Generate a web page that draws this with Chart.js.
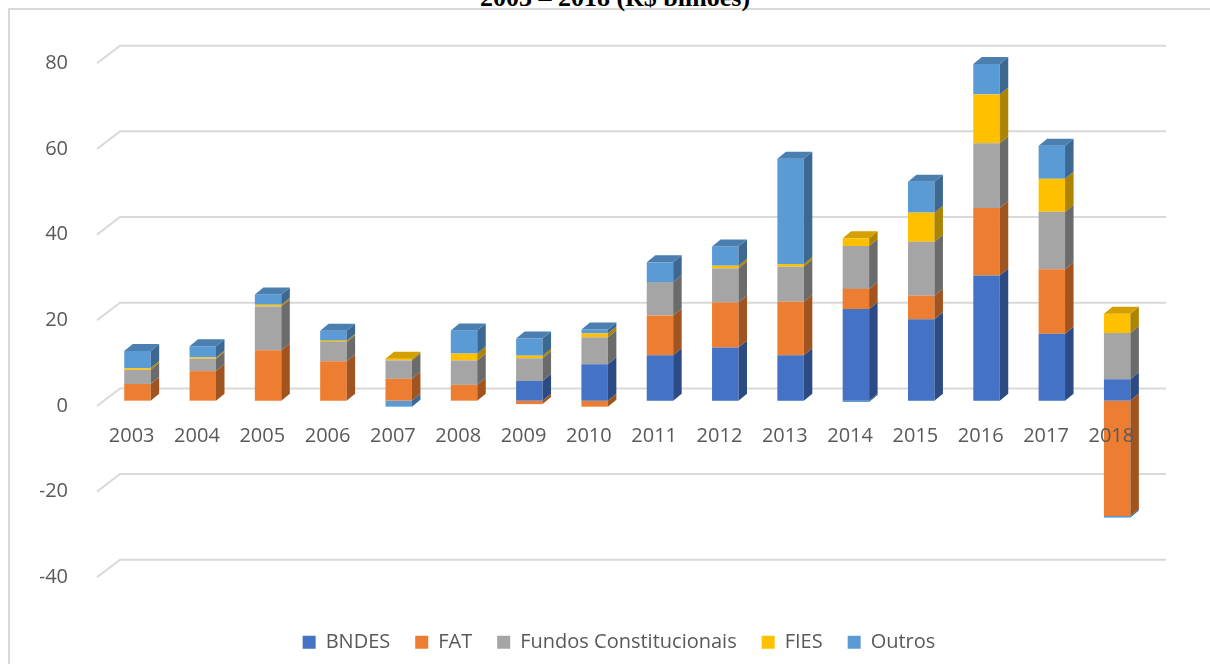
<!DOCTYPE html>
<html lang="pt-BR">
<head>
<meta charset="utf-8">
<title>2003 – 2018 (R$ bilhões)</title>
<script src="https://cdn.jsdelivr.net/npm/chart.js@4/dist/chart.umd.min.js"></script>
<style>
  html, body { margin: 0; padding: 0; background: #fff; overflow: hidden; }
  #wrap { position: relative; width: 1210px; height: 664px; overflow: hidden; }
  #frame {
    position: absolute; left: 8px; top: 8px; width: 1300px; height: 800px;
    border: 2px solid #d9d9d9; box-sizing: border-box;
  }
  #title {
    position: absolute; left: 10px; top: -15px; width: 1210px; text-align: center;
    font: bold 26px "Liberation Serif", "Times New Roman", serif; line-height: 26px; color: #000;
    white-space: nowrap;
  }
  #chart { position: absolute; left: 0; top: 0; }
</style>
</head>
<body>
<div id="wrap">
  <div id="frame"></div>
  <div id="title">2003 – 2018 (R$ bilhões)</div>
  <canvas id="chart" width="1210" height="664"></canvas>
</div>
<script>
// データ
const years = ["2003", "2004", "2005", "2006", "2007", "2008", "2009", "2010",
  "2011", "2012", "2013", "2014", "2015", "2016", "2017", "2018"];
const bndes = [0, 0, 0, 0, 0, 0, 4.6, 8.5, 10.6, 12.4, 10.6, 21.4, 19.0, 29.2, 15.6, 5.0];
const fat = [3.9, 6.9, 11.8, 9.2, 5.1, 3.7, -0.8, -1.4, 9.3, 10.5, 12.5, 4.7, 5.5, 15.8, 15.1, -26.9];
const fundos = [3.3, 2.9, 10.2, 4.5, 4.3, 5.7, 5.3, 6.3, 7.8, 8.0, 8.2, 10.0, 12.6, 15.1, 13.4, 10.8];
const fies = [0.4, 0.3, 0.4, 0.3, 0.4, 1.6, 0.6, 0.9, 0, 0.6, 0.6, 1.8, 6.8, 11.4, 7.7, 4.5];
const outros = [4.0, 2.6, 2.4, 2.3, -1.4, 5.4, 4.0, 0.9, 4.6, 4.5, 24.6, -0.3, 7.2, 7.1, 7.7, -0.4];
const yTicks = [-40, -20, 0, 20, 40, 60, 80];

const seriesNames = ["BNDES", "FAT", "Fundos Constitucionais", "FIES", "Outros"];
const frontColors = ["#4472C4", "#ED7D31", "#A5A5A5", "#FFC000", "#5B9BD5"];
const sideColors = ["#2C4B84", "#A1541F", "#6B6B6B", "#AD8400", "#3C6892"];
const topColors = ["#3A64AE", "#CC6A28", "#8E8E8E", "#D4A000", "#4A7FB0"];

// 3D表示用のオフセット
const DEPTH_X = 8.5;
const DEPTH_Y = -7;
const BAR_SHIFT_X = 5.8;
const BAR_SHIFT_Y = -5.3;
const LEGEND_SHIFT_X = 27;
const TEXT_COLOR = "#595959";

// 凡例の位置調整
const legendShiftPlugin = {
  id: "legendShift",
  afterLayout(chart) {
    if (chart.legend) {
      chart.legend.left += LEGEND_SHIFT_X;
      chart.legend.right += LEGEND_SHIFT_X;
    }
  },
};

// 背面のグリッド線と立体の棒
const threeDPlugin = {
  id: "threeD",
  beforeDatasetsDraw(chart) {
    const ctx = chart.ctx;
    const yScale = chart.scales.y;
    const area = chart.chartArea;
    ctx.save();
    ctx.strokeStyle = "#d9d9d9";
    ctx.lineWidth = 2;
    yScale.ticks.forEach((t) => {
      const py = yScale.getPixelForValue(t.value);
      ctx.beginPath();
      ctx.moveTo(area.left - 2, py);
      ctx.lineTo(area.left + 21, py - 17.6);
      ctx.lineTo(area.right + 22, py - 17.6);
      ctx.stroke();
    });
    ctx.restore();

    ctx.save();
    ctx.translate(BAR_SHIFT_X, BAR_SHIFT_Y);
  },
  afterDatasetsDraw(chart) {
    const ctx = chart.ctx;
    const topBars = {};

    chart.data.datasets.forEach((ds, d) => {
      const meta = chart.getDatasetMeta(d);
      meta.data.forEach((bar, i) => {
        const v = ds.data[i];
        if (!v) return;
        const p = bar.getProps(["x", "y", "base", "width"], true);
        const right = p.x + p.width / 2;
        const top = Math.min(p.y, p.base);
        const bottom = Math.max(p.y, p.base);

        // 側面
        ctx.fillStyle = sideColors[d];
        ctx.beginPath();
        ctx.moveTo(right, top);
        ctx.lineTo(right + DEPTH_X, top + DEPTH_Y);
        ctx.lineTo(right + DEPTH_X, bottom + DEPTH_Y);
        ctx.lineTo(right, bottom);
        ctx.closePath();
        ctx.fill();

        if (v > 0 && (!topBars[i] || p.y < topBars[i].y)) {
          topBars[i] = { x: p.x, y: p.y, width: p.width, d: d };
        }
      });
    });

    // 上面
    Object.values(topBars).forEach((b) => {
      const left = b.x - b.width / 2;
      const right = b.x + b.width / 2;
      ctx.fillStyle = topColors[b.d];
      ctx.beginPath();
      ctx.moveTo(left, b.y);
      ctx.lineTo(left + DEPTH_X, b.y + DEPTH_Y);
      ctx.lineTo(right + DEPTH_X, b.y + DEPTH_Y);
      ctx.lineTo(right, b.y);
      ctx.closePath();
      ctx.fill();
    });

    ctx.restore();
  },
};

function buildChart() {
  const seriesData = [bndes, fat, fundos, fies, outros];
  const datasets = seriesNames.map((name, d) => ({
    label: name,
    data: seriesData[d],
    backgroundColor: frontColors[d],
    borderWidth: 0,
    categoryPercentage: 1.0,
    barPercentage: 0.405,
    clip: false,
  }));

  new Chart(document.getElementById("chart"), {
    type: "bar",
    data: { labels: years, datasets: datasets },
    options: {
      responsive: false,
      animation: false,
      events: [],
      layout: {
        padding: { top: 63.3, left: 40, right: 66, bottom: 1.7 },
      },
      plugins: {
        tooltip: { enabled: false },
        title: { display: false },
        legend: {
          position: "bottom",
          labels: {
            boxWidth: 13,
            boxHeight: 13,
            padding: 25,
            color: TEXT_COLOR,
            font: { family: "'Open Sans'", size: 20 },
          },
        },
      },
      scales: {
        x: {
          stacked: true,
          position: { y: 0 },
          grid: { display: false },
          border: { display: false },
          ticks: {
            z: 1,
            color: TEXT_COLOR,
            font: { family: "'Open Sans'", size: 20 },
            padding: 10,
            maxRotation: 0,
            autoSkip: false,
          },
        },
        y: {
          stacked: true,
          min: -47,
          max: 80,
          grid: { display: false },
          border: { display: false },
          afterBuildTicks: (scale) => {
            scale.ticks = yTicks.map((v) => ({ value: v }));
          },
          afterFit: (scale) => {
            scale.width = 59;
          },
          ticks: {
            color: TEXT_COLOR,
            font: { family: "'Open Sans'", size: 20 },
            padding: 23,
          },
        },
      },
    },
    plugins: [threeDPlugin, legendShiftPlugin],
  });
}

document.fonts.load('20px "Open Sans"').then(buildChart, buildChart);
</script>
</body>
</html>
